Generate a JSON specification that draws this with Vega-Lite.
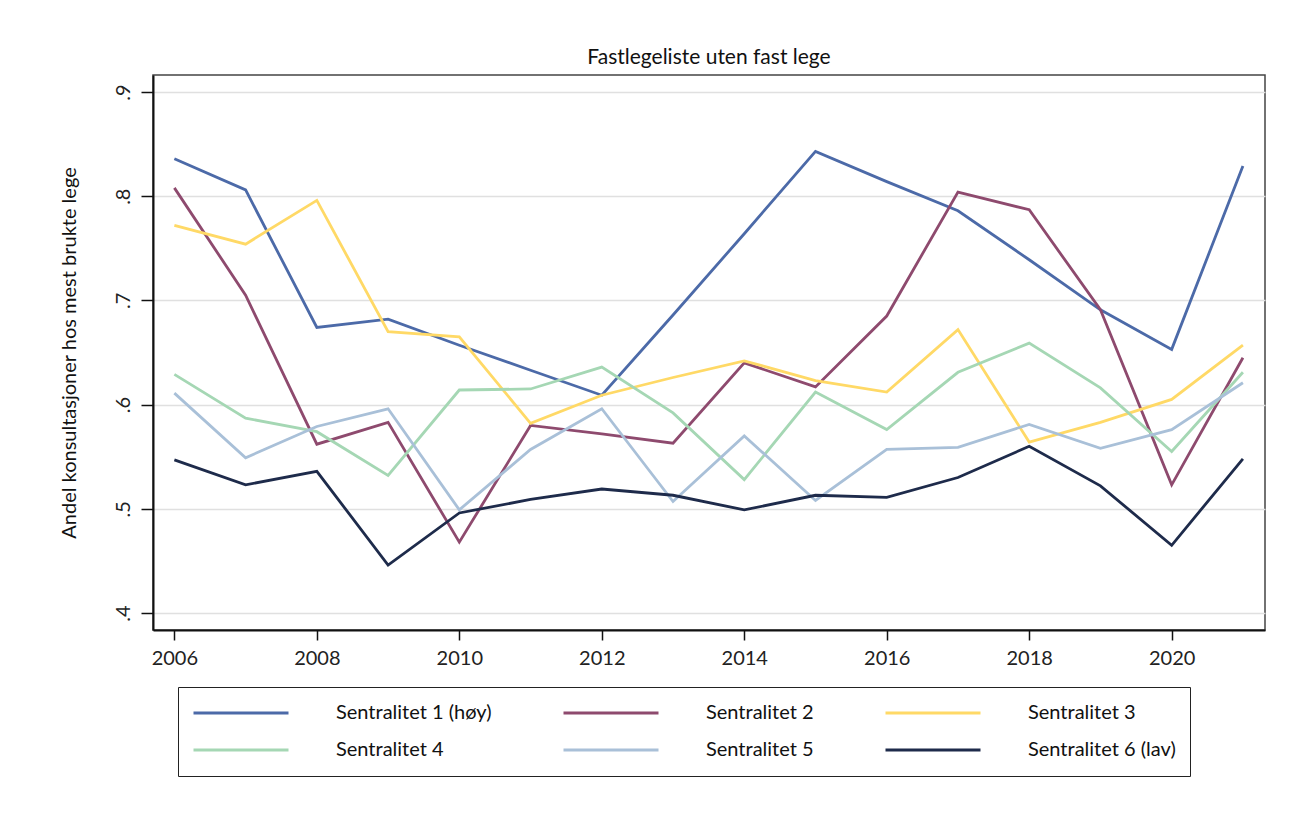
{
  "$schema": "https://vega.github.io/schema/vega-lite/v6.json",
  "autosize": {"type": "none"},
  "width": 1112,
  "height": 555,
  "padding": {"left": 153, "top": 75, "right": 41, "bottom": 184},
  "background": "white",
  "title": {"text": "Fastlegeliste uten fast lege", "font": "Lato", "fontSize": 21, "fontWeight": "normal", "color": "#111", "offset": 7, "anchor": "middle"},
  "data": {"values": [
    {"year": 2006, "s": "Sentralitet 1 (høy)", "v": 0.836},
    {"year": 2007, "s": "Sentralitet 1 (høy)", "v": 0.806},
    {"year": 2008, "s": "Sentralitet 1 (høy)", "v": 0.674},
    {"year": 2009, "s": "Sentralitet 1 (høy)", "v": 0.682},
    {"year": 2010, "s": "Sentralitet 1 (høy)", "v": 0.657},
    {"year": 2011, "s": "Sentralitet 1 (høy)", "v": 0.633},
    {"year": 2012, "s": "Sentralitet 1 (høy)", "v": 0.609},
    {"year": 2013, "s": "Sentralitet 1 (høy)", "v": 0.686},
    {"year": 2014, "s": "Sentralitet 1 (høy)", "v": 0.764},
    {"year": 2015, "s": "Sentralitet 1 (høy)", "v": 0.843},
    {"year": 2016, "s": "Sentralitet 1 (høy)", "v": 0.814},
    {"year": 2017, "s": "Sentralitet 1 (høy)", "v": 0.786},
    {"year": 2018, "s": "Sentralitet 1 (høy)", "v": 0.739},
    {"year": 2019, "s": "Sentralitet 1 (høy)", "v": 0.691},
    {"year": 2020, "s": "Sentralitet 1 (høy)", "v": 0.653},
    {"year": 2021, "s": "Sentralitet 1 (høy)", "v": 0.829},
    {"year": 2006, "s": "Sentralitet 2", "v": 0.808},
    {"year": 2007, "s": "Sentralitet 2", "v": 0.705},
    {"year": 2008, "s": "Sentralitet 2", "v": 0.562},
    {"year": 2009, "s": "Sentralitet 2", "v": 0.583},
    {"year": 2010, "s": "Sentralitet 2", "v": 0.468},
    {"year": 2011, "s": "Sentralitet 2", "v": 0.580},
    {"year": 2012, "s": "Sentralitet 2", "v": 0.572},
    {"year": 2013, "s": "Sentralitet 2", "v": 0.563},
    {"year": 2014, "s": "Sentralitet 2", "v": 0.640},
    {"year": 2015, "s": "Sentralitet 2", "v": 0.617},
    {"year": 2016, "s": "Sentralitet 2", "v": 0.685},
    {"year": 2017, "s": "Sentralitet 2", "v": 0.804},
    {"year": 2018, "s": "Sentralitet 2", "v": 0.787},
    {"year": 2019, "s": "Sentralitet 2", "v": 0.691},
    {"year": 2020, "s": "Sentralitet 2", "v": 0.523},
    {"year": 2021, "s": "Sentralitet 2", "v": 0.645},
    {"year": 2006, "s": "Sentralitet 3", "v": 0.772},
    {"year": 2007, "s": "Sentralitet 3", "v": 0.754},
    {"year": 2008, "s": "Sentralitet 3", "v": 0.796},
    {"year": 2009, "s": "Sentralitet 3", "v": 0.670},
    {"year": 2010, "s": "Sentralitet 3", "v": 0.665},
    {"year": 2011, "s": "Sentralitet 3", "v": 0.582},
    {"year": 2012, "s": "Sentralitet 3", "v": 0.609},
    {"year": 2013, "s": "Sentralitet 3", "v": 0.626},
    {"year": 2014, "s": "Sentralitet 3", "v": 0.642},
    {"year": 2015, "s": "Sentralitet 3", "v": 0.623},
    {"year": 2016, "s": "Sentralitet 3", "v": 0.612},
    {"year": 2017, "s": "Sentralitet 3", "v": 0.672},
    {"year": 2018, "s": "Sentralitet 3", "v": 0.564},
    {"year": 2019, "s": "Sentralitet 3", "v": 0.583},
    {"year": 2020, "s": "Sentralitet 3", "v": 0.605},
    {"year": 2021, "s": "Sentralitet 3", "v": 0.657},
    {"year": 2006, "s": "Sentralitet 4", "v": 0.629},
    {"year": 2007, "s": "Sentralitet 4", "v": 0.587},
    {"year": 2008, "s": "Sentralitet 4", "v": 0.574},
    {"year": 2009, "s": "Sentralitet 4", "v": 0.532},
    {"year": 2010, "s": "Sentralitet 4", "v": 0.614},
    {"year": 2011, "s": "Sentralitet 4", "v": 0.615},
    {"year": 2012, "s": "Sentralitet 4", "v": 0.636},
    {"year": 2013, "s": "Sentralitet 4", "v": 0.592},
    {"year": 2014, "s": "Sentralitet 4", "v": 0.528},
    {"year": 2015, "s": "Sentralitet 4", "v": 0.612},
    {"year": 2016, "s": "Sentralitet 4", "v": 0.576},
    {"year": 2017, "s": "Sentralitet 4", "v": 0.631},
    {"year": 2018, "s": "Sentralitet 4", "v": 0.659},
    {"year": 2019, "s": "Sentralitet 4", "v": 0.616},
    {"year": 2020, "s": "Sentralitet 4", "v": 0.555},
    {"year": 2021, "s": "Sentralitet 4", "v": 0.631},
    {"year": 2006, "s": "Sentralitet 5", "v": 0.611},
    {"year": 2007, "s": "Sentralitet 5", "v": 0.549},
    {"year": 2008, "s": "Sentralitet 5", "v": 0.579},
    {"year": 2009, "s": "Sentralitet 5", "v": 0.596},
    {"year": 2010, "s": "Sentralitet 5", "v": 0.499},
    {"year": 2011, "s": "Sentralitet 5", "v": 0.557},
    {"year": 2012, "s": "Sentralitet 5", "v": 0.596},
    {"year": 2013, "s": "Sentralitet 5", "v": 0.507},
    {"year": 2014, "s": "Sentralitet 5", "v": 0.570},
    {"year": 2015, "s": "Sentralitet 5", "v": 0.508},
    {"year": 2016, "s": "Sentralitet 5", "v": 0.557},
    {"year": 2017, "s": "Sentralitet 5", "v": 0.559},
    {"year": 2018, "s": "Sentralitet 5", "v": 0.581},
    {"year": 2019, "s": "Sentralitet 5", "v": 0.558},
    {"year": 2020, "s": "Sentralitet 5", "v": 0.576},
    {"year": 2021, "s": "Sentralitet 5", "v": 0.621},
    {"year": 2006, "s": "Sentralitet 6 (lav)", "v": 0.547},
    {"year": 2007, "s": "Sentralitet 6 (lav)", "v": 0.523},
    {"year": 2008, "s": "Sentralitet 6 (lav)", "v": 0.536},
    {"year": 2009, "s": "Sentralitet 6 (lav)", "v": 0.446},
    {"year": 2010, "s": "Sentralitet 6 (lav)", "v": 0.496},
    {"year": 2011, "s": "Sentralitet 6 (lav)", "v": 0.509},
    {"year": 2012, "s": "Sentralitet 6 (lav)", "v": 0.519},
    {"year": 2013, "s": "Sentralitet 6 (lav)", "v": 0.513},
    {"year": 2014, "s": "Sentralitet 6 (lav)", "v": 0.499},
    {"year": 2015, "s": "Sentralitet 6 (lav)", "v": 0.513},
    {"year": 2016, "s": "Sentralitet 6 (lav)", "v": 0.511},
    {"year": 2017, "s": "Sentralitet 6 (lav)", "v": 0.530},
    {"year": 2018, "s": "Sentralitet 6 (lav)", "v": 0.560},
    {"year": 2019, "s": "Sentralitet 6 (lav)", "v": 0.522},
    {"year": 2020, "s": "Sentralitet 6 (lav)", "v": 0.465},
    {"year": 2021, "s": "Sentralitet 6 (lav)", "v": 0.548}
  ]},
  "mark": {"type": "line", "strokeWidth": 2.8, "strokeJoin": "miter"},
  "encoding": {
    "x": {
      "field": "year", "type": "quantitative",
      "scale": {"domain": [2005.7, 2021.31], "nice": false, "zero": false},
      "axis": {
        "title": null, "values": [2006, 2008, 2010, 2012, 2014, 2016, 2018, 2020], "format": "d",
        "grid": false, "domainColor": "#111", "domainWidth": 2, "tickColor": "#111", "tickWidth": 1.5, "tickSize": 10,
        "labelFont": "Lato", "labelFontSize": 20, "labelColor": "#222", "labelPadding": 8, "labelFlush": false
      }
    },
    "y": {
      "field": "v", "type": "quantitative",
      "scale": {"domain": [0.3837, 0.9163], "nice": false, "zero": false},
      "axis": {
        "title": "Andel konsultasjoner hos mest brukte lege", "titleFont": "Lato", "titleFontSize": 20, "titleFontWeight": "normal", "titleColor": "#111", "titlePadding": 34,
        "values": [0.4, 0.5, 0.6, 0.7, 0.8, 0.9],
        "labelExpr": "replace(format(datum.value, '.1f'), '0.', '.')",
        "labelAngle": -90, "labelAlign": "center", "labelBaseline": "bottom",
        "labelFont": "Lato", "labelFontSize": 20, "labelColor": "#222", "labelPadding": 8,
        "grid": true, "gridColor": "#e0e0e0", "gridWidth": 1.6,
        "domainColor": "#111", "domainWidth": 2, "tickColor": "#111", "tickWidth": 1.5, "tickSize": 12
      }
    },
    "color": {
      "field": "s", "type": "nominal",
      "scale": {
        "domain": ["Sentralitet 1 (høy)", "Sentralitet 2", "Sentralitet 3", "Sentralitet 4", "Sentralitet 5", "Sentralitet 6 (lav)"],
        "range": ["#4C6AA8", "#8E4A6E", "#FFD966", "#A5D7B4", "#A9C0D8", "#1E2B4B"]
      },
      "legend": {
        "title": null, "orient": "none", "legendX": 25, "legendY": 612,
        "direction": "horizontal", "columns": 3, "gridAlign": "each",
        "symbolType": "stroke", "symbolSize": 9025, "symbolStrokeWidth": 3, "clipHeight": 24,
        "labelOffset": 46, "labelFont": "Lato", "labelFontSize": 20, "labelColor": "#111", "labelLimit": 300,
        "columnPadding": 70, "rowPadding": 13, "padding": 14,
        "strokeColor": "#222", "fillColor": "white"
      }
    }
  },
  "config": {
    "view": {"stroke": "#444", "strokeWidth": 1.5}
  }
}
